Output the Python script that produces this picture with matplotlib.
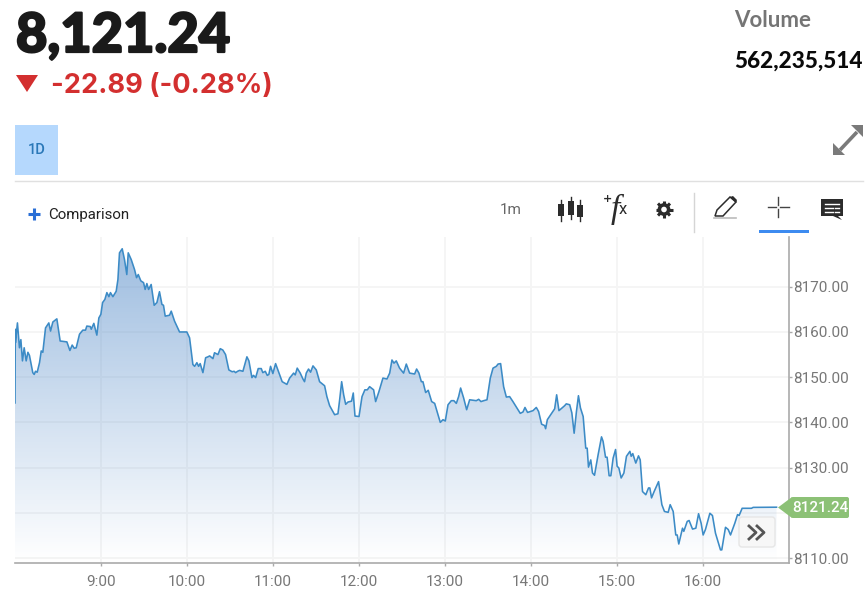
# index intraday chart, area with gradient + page toolbar around it
import numpy as np
import matplotlib
matplotlib.use('Agg')
import matplotlib.pyplot as plt
import matplotlib.patheffects as pe
from matplotlib.patches import Polygon, Rectangle, Circle, FancyBboxPatch

# minutes after 08:00
minutes = [0, 0.2, 0.3, 1.7, 3.1, 4.1, 5.2, 6.4, 7.8, 9.0, 10.1, 12.4, 13.4, 14.3, 15.5, 17.1, 18.3, 19.4, 21.3, 23.6,
           24.8, 26.4, 29.2, 31.5, 36.2, 38.3, 39.9, 41.3, 42.7, 45.0, 47.3, 49.2, 50.1, 52.5, 53.2, 55.0, 57.1, 58.5, 59.9, 61.1,
           62.7, 64.1, 65.5, 66.6, 68.3, 70.6, 71.8, 72.9, 74.8, 76.4, 78.0, 79.0, 81.1, 83.4, 84.8, 86.0, 87.8, 89.7, 90.8, 92.0,
           93.2, 95.0, 97.1, 99.0, 100.8, 102.5, 103.6, 104.8, 107.8, 109.0, 111.3, 114.8, 119.9, 121.8, 124.1, 125.3, 126.9, 128.1, 129.2, 131.1,
           133.0, 134.6, 135.8, 138.1, 139.2, 141.6, 143.2, 145.0, 146.9, 149.2, 151.5, 152.9, 153.9, 155.3, 156.7, 159.0, 161.8, 163.2, 165.3, 166.4,
           167.9, 169.7, 171.8, 172.9, 174.6, 176.0, 177.1, 178.3, 179.9, 181.8, 186.4, 189.7, 191.6, 194.4, 195.5, 196.9, 199.0, 200.9, 202.0, 203.2,
           204.8, 206.2, 207.9, 210.2, 212.5, 216.0, 217.6, 219.5, 223.0, 225.3, 226.5, 227.9, 229.3, 230.7, 232.3, 234.8, 236.0, 237.2, 240.0, 242.1,
           244.1, 245.8, 247.4, 250.2, 251.6, 253.9, 256.7, 259.5, 261.4, 263.0, 264.4, 266.0, 268.3, 271.1, 273.0, 275.3, 278.8, 280.2, 281.8, 283.5,
           284.6, 286.5, 288.3, 290.7, 292.8, 296.7, 298.6, 300.2, 302.1, 304.4, 306.2, 307.9, 309.5, 310.9, 313.0, 315.1, 317.2, 321.8, 323.5, 325.1,
           327.0, 329.3, 331.6, 333.5, 335.8, 337.0, 338.8, 340.9, 342.8, 345.1, 347.4, 352.5, 354.4, 355.8, 357.6, 361.4, 363.7, 365.3, 367.4, 369.5,
           370.2, 371.4, 376.5, 377.9, 379.5, 383.5, 384.6, 387.0, 388.5, 390.1, 391.7, 393.1, 394.5, 396.4, 398.2, 399.2, 400.1, 401.7, 402.9, 404.3,
           406.8, 409.2, 410.3, 412.0, 413.1, 414.5, 415.7, 417.3, 419.0, 420.1, 421.3, 422.9, 424.8, 426.6, 429.0, 429.9, 431.0, 433.1, 435.0, 436.2,
           437.8, 440.1, 442.0, 442.9, 444.1, 445.9, 449.0, 451.3, 453.1, 455.7, 457.1, 459.2, 461.0, 462.0, 463.1, 465.7, 466.6, 469.0, 470.3, 472.7,
           475.0, 476.9, 478.7, 480.1, 481.7, 484.8, 486.6, 488.7, 492.2, 493.1, 495.7, 497.6, 499.2, 502.2, 504.1, 505.2, 507.3, 513.8, 515.0, 531.3]
prices = [8144.3, 8160.6, 8157.6, 8162.0, 8156.5, 8158.3, 8153.6, 8156.5, 8153.6, 8155.5, 8154.8, 8151.0, 8150.6, 8151.3, 8151.1, 8153.2, 8155.8, 8155.5, 8160.9, 8162.0,
          8160.2, 8162.2, 8162.9, 8158.0, 8157.8, 8155.9, 8157.1, 8156.4, 8156.5, 8159.5, 8160.4, 8160.4, 8161.3, 8161.2, 8160.6, 8161.9, 8159.3, 8163.1, 8163.9, 8166.5,
          8167.2, 8168.7, 8167.8, 8168.7, 8167.8, 8169.0, 8171.6, 8177.5, 8178.4, 8176.0, 8172.7, 8177.5, 8176.0, 8173.8, 8172.0, 8172.7, 8171.3, 8170.9, 8169.4, 8170.7,
          8169.4, 8170.5, 8165.9, 8166.5, 8168.9, 8166.1, 8165.9, 8163.5, 8163.7, 8164.6, 8162.4, 8160.0, 8160.0, 8158.7, 8152.8, 8152.4, 8153.2, 8152.4, 8153.0, 8151.0,
          8154.3, 8154.5, 8154.7, 8154.1, 8155.4, 8155.0, 8156.3, 8156.0, 8155.0, 8151.6, 8151.2, 8151.3, 8151.0, 8151.3, 8151.5, 8151.3, 8154.5, 8153.6, 8149.9, 8150.4,
          8149.9, 8151.9, 8151.9, 8151.0, 8151.3, 8150.4, 8150.6, 8152.4, 8150.8, 8153.0, 8149.0, 8148.4, 8149.8, 8150.9, 8150.5, 8152.0, 8150.9, 8149.6, 8149.0, 8150.9,
          8151.8, 8151.1, 8152.5, 8151.6, 8149.0, 8148.1, 8145.7, 8143.7, 8141.7, 8141.9, 8145.0, 8149.0, 8146.1, 8144.0, 8144.5, 8144.7, 8146.5, 8141.4, 8141.3, 8145.7,
          8147.2, 8147.2, 8147.9, 8147.2, 8144.6, 8146.8, 8149.8, 8149.6, 8150.9, 8153.8, 8153.1, 8153.6, 8152.0, 8150.9, 8152.9, 8150.9, 8150.7, 8151.8, 8150.9, 8149.0,
          8149.0, 8146.6, 8147.1, 8144.6, 8144.2, 8140.0, 8140.6, 8140.3, 8143.9, 8144.8, 8144.8, 8144.2, 8145.7, 8147.6, 8145.4, 8142.8, 8145.0, 8144.8, 8145.1, 8144.6,
          8144.8, 8145.0, 8149.8, 8152.0, 8152.4, 8152.9, 8153.0, 8147.9, 8145.6, 8145.7, 8144.6, 8142.0, 8142.3, 8143.3, 8142.2, 8142.6, 8143.3, 8142.4, 8139.6, 8139.3,
          8138.6, 8140.6, 8143.0, 8146.1, 8142.6, 8143.7, 8144.1, 8143.9, 8142.1, 8137.6, 8142.4, 8145.9, 8143.2, 8141.3, 8134.3, 8134.3, 8130.1, 8131.7, 8128.8, 8128.3,
          8132.8, 8136.8, 8135.8, 8132.3, 8132.3, 8128.2, 8128.2, 8132.1, 8134.0, 8130.3, 8129.9, 8127.7, 8128.8, 8132.5, 8133.6, 8132.5, 8133.1, 8131.0, 8132.6, 8131.7,
          8124.7, 8124.0, 8125.5, 8125.5, 8123.3, 8124.7, 8126.9, 8121.8, 8120.3, 8120.1, 8121.8, 8120.3, 8115.1, 8115.1, 8113.1, 8116.6, 8115.9, 8118.1, 8118.3, 8116.4,
          8116.6, 8119.8, 8117.7, 8115.1, 8116.3, 8119.9, 8119.4, 8115.5, 8111.8, 8111.8, 8116.8, 8116.3, 8115.1, 8117.7, 8119.6, 8119.4, 8121.0, 8121.0, 8121.2, 8121.24]

x_tick_pos = [60, 120, 180, 240, 300, 360, 420, 480]
x_tick_labels = ['9:00', '10:00', '11:00', '12:00', '13:00', '14:00', '15:00', '16:00']
y_tick_pos = [8110, 8120, 8130, 8140, 8150, 8160, 8170]
y_tick_labels = ['8110.00', '', '8130.00', '8140.00', '8150.00', '8160.00', '8170.00']

W, H = 868, 594
plt.rcParams['font.family'] = ['Roboto', 'DejaVu Sans']
fig = plt.figure(figsize=(W / 100, H / 100), dpi=100)

# chart
ax = fig.add_axes([15 / W, 1 - 563 / H, (789 - 15) / W, (563 - 237) / H])
ax.set_xlim(0, 540)
ax.set_ylim(8108.9, 8181.0)
ax.grid(True, color='#f5f5f5', lw=1.3)
ax.set_axisbelow(True)
for s in ['top', 'left']:
    ax.spines[s].set_visible(False)
for s in ['right', 'bottom']:
    ax.spines[s].set_color('#aaaaaa')
    ax.spines[s].set_linewidth(1.2)
ax.yaxis.tick_right()
ax.set_xticks(x_tick_pos)
ax.set_xticklabels(x_tick_labels)
ax.set_yticks(y_tick_pos)
ax.set_yticklabels(y_tick_labels)
ax.tick_params(axis='both', colors='#aaaaaa', labelcolor='#777777', labelsize=11, length=2.5, width=1, pad=0.5)
ax.tick_params(axis='x', pad=6)

# gradient under the line
grad = np.zeros((256, 1, 4))
grad[:, 0, 0] = 0.38
grad[:, 0, 1] = 0.58
grad[:, 0, 2] = 0.80
grad[:, 0, 3] = np.linspace(0.62, 0.0, 256)
poly = ax.fill_between(minutes, prices, 8108.9, color='none')
im = ax.imshow(grad, aspect='auto', extent=[0, 540, 8108.9, 8179.5], origin='upper', zorder=1.5)
im.set_clip_path(poly.get_paths()[0], transform=ax.transData)
ax.set_xlim(0, 540)
ax.set_ylim(8108.9, 8181.0)

ax.plot(minutes, prices, color='#3c8bc6', lw=1.15, zorder=3, solid_joinstyle='round')

# page furniture in pixel coords
ov = fig.add_axes([0, 0, 1, 1], zorder=5)
ov.set_xlim(0, W)
ov.set_ylim(H, 0)
ov.axis('off')

big = ov.text(16, 52, '8,121.24', fontsize=39, fontweight='black', family=['Lato', 'DejaVu Sans'], color='#1a1a1a', va='baseline', ha='left')
big.set_path_effects([pe.withStroke(linewidth=1.6, foreground='#1a1a1a')])
ov.add_patch(Polygon([[16, 75], [38, 75], [27, 92]], color='#d32f2f', lw=0))
ov.text(51, 93, '-22.89 (-0.28%)', fontsize=19.6, fontweight='bold', family=['Inter', 'DejaVu Sans'], color='#d32f2f', va='baseline', ha='left')
ov.text(734, 27, 'Volume', fontsize=16, fontweight='bold', family=['Lato', 'DejaVu Sans'], color='#757575', va='baseline')
ov.text(734, 68, '562,235,514', fontsize=16.2, fontweight='black', family=['Lato', 'DejaVu Sans'], color='#0a0a0a', va='baseline')

ov.add_patch(Rectangle((15, 125), 43, 50, color='#b5d8fd', lw=0))
ov.text(36.5, 150, '1D', fontsize=10.5, color='#2a78b8', ha='center', va='center', fontweight='medium')
ov.plot([15, 863], [180.5, 180.5], color='#e0e0e0', lw=1)

# plus and comparison
ov.plot([28, 40], [214, 214], color='#2a6fd6', lw=2.2, solid_capstyle='butt')
ov.plot([34, 34], [208, 220], color='#2a6fd6', lw=2.2, solid_capstyle='butt')
ov.text(48, 215, 'Comparison', fontsize=10.8, color='#222222', va='center')
ov.text(511, 210, '1m', fontsize=11, color='#666666', ha='center', va='center')

# candles icon
for cx, top, bot, ltop, lbot in [(561, 204, 216, 200, 221), (570.5, 201, 215, 197, 219), (580, 205, 217, 200, 221)]:
    ov.plot([cx, cx], [ltop, lbot], color='#2b2b2b', lw=1)
    ov.add_patch(Rectangle((cx - 3, top), 6, bot - top, color='#2b2b2b', lw=0))

# fx icon
ov.text(607, 199.5, '+', fontsize=8, color='#2b2b2b', ha='center', va='center', family=['DejaVu Sans'], fontweight='bold')
ov.text(615, 209, 'f', fontsize=24, color='#2b2b2b', ha='center', va='center', family=['Liberation Serif'], style='italic')
ov.text(623, 210, 'x', fontsize=12, color='#2b2b2b', ha='center', va='center', family=['Roboto'])

# gear
for a in np.arange(0, 180, 45):
    dx, dy = 8.5 * np.cos(np.radians(a)), 8.5 * np.sin(np.radians(a))
    ov.plot([664 - dx, 664 + dx], [209.5 - dy, 209.5 + dy], color='#2b2b2b', lw=2.2, solid_capstyle='butt')
ov.add_patch(Circle((664, 209.5), 6.4, color='#2b2b2b', lw=0, zorder=4))
ov.add_patch(Circle((664, 209.5), 2.8, color='white', lw=0, zorder=5))

ov.plot([693.5, 693.5], [193, 232], color='#d5d5d5', lw=1)

# pencil
ov.add_patch(Polygon([[715, 216], [717, 210], [730, 197], [736, 202], [723, 216]], fc='white', ec='#2b2b2b', lw=1.1))
ov.add_patch(Polygon([[730, 197], [733, 196], [737, 200], [736, 203]], color='#2b2b2b', lw=0))
ov.plot([714, 736], [218, 218], color='#bbbbbb', lw=1.2)

# crosshair
ov.plot([768, 776], [207, 207], color='#444444', lw=1)
ov.plot([780, 789], [207, 207], color='#444444', lw=1)
ov.plot([778, 778], [197, 205], color='#444444', lw=1)
ov.plot([778, 778], [209, 217], color='#444444', lw=1)
ov.add_patch(Rectangle((759, 230), 50, 3, color='#3d8bf0', lw=0))

# comment bubble
ov.add_patch(Polygon([[821, 199], [843, 199], [843, 216], [838, 216], [842, 220], [833, 216], [821, 216]], color='#2b2b2b', lw=0))
for ly, x1, x2 in [(203.5, 825, 839), (207.5, 825, 833), (211.5, 825, 833)]:
    ov.plot([x1, x2], [ly, ly], color='white', lw=1)
for ly in [207.5, 211.5]:
    ov.plot([835, 839], [ly, ly], color='white', lw=1)

# expand arrows
ov.plot([840, 857], [150, 132], color='#7a7a7a', lw=2.6, solid_capstyle='butt')
ov.add_patch(Polygon([[833, 155], [833, 143], [845, 155]], color='#7a7a7a', lw=0))
ov.add_patch(Polygon([[863, 125], [863, 137], [851, 125]], color='#7a7a7a', lw=0))

# >> button
ov.add_patch(FancyBboxPatch((739, 517), 36, 30, boxstyle='round,pad=0,rounding_size=3', fc='#f7f7f7', ec='#e6e6e6', lw=1))
for dx in [0, 8]:
    ov.plot([749 + dx, 756 + dx, 749 + dx], [526, 532.5, 539], color='#555555', lw=2)

# last price tag
ov.add_patch(FancyBboxPatch((791, 497), 58, 21, boxstyle='round,pad=0,rounding_size=2', color='#8cc176', lw=0))
ov.add_patch(Polygon([[778, 507.5], [792, 497], [792, 518]], color='#8cc176', lw=0))
ov.text(820, 508, '8121.24', fontsize=11, color='white', ha='center', va='center', fontweight='medium')

fig.savefig('out.png', dpi=100)
